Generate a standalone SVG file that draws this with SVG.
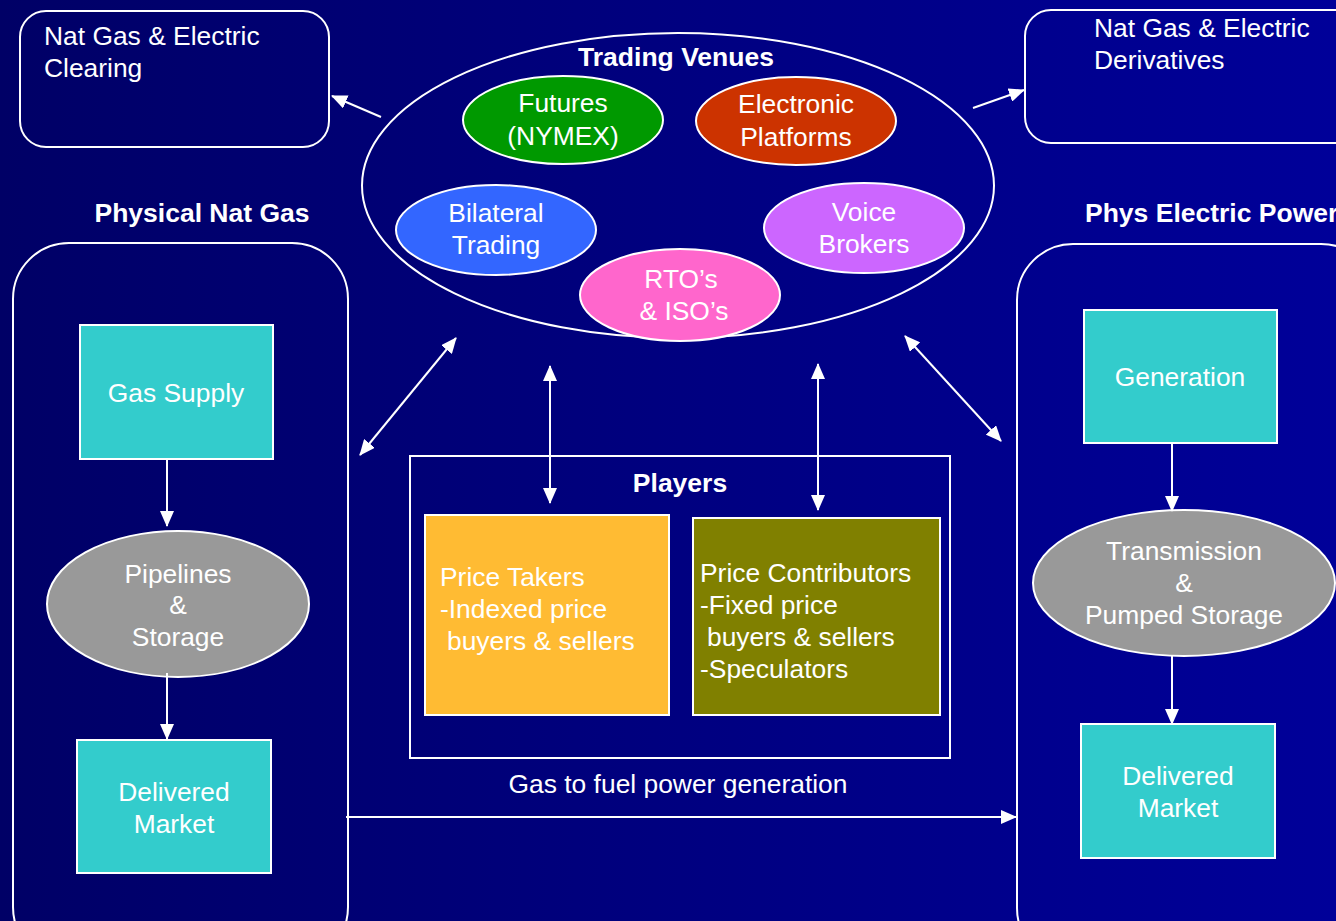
<svg xmlns="http://www.w3.org/2000/svg" width="1336" height="921" viewBox="0 0 1336 921">
<defs>
<linearGradient id="bg" x1="0" y1="0" x2="1" y2="0">
<stop offset="0" stop-color="#000066"/>
<stop offset="1" stop-color="#000099"/>
</linearGradient>
<marker id="ah" viewBox="0 0 16 14" refX="15" refY="7" markerWidth="16" markerHeight="14" markerUnits="userSpaceOnUse" orient="auto-start-reverse">
<path d="M0,0 L16,7 L0,14 Z" fill="#fff"/>
</marker>
</defs>
<style>
text{font-family:"Liberation Sans",Arial,sans-serif;font-size:26.4px;fill:#fff}
.b{font-weight:bold;font-size:26.5px}
.c{text-anchor:middle}
.ol{fill:none;stroke:#fff;stroke-width:2}
.box{fill:#33CCCC;stroke:#fff;stroke-width:2}
.gray{fill:#999999;stroke:#fff;stroke-width:2}
.ve{stroke:#fff;stroke-width:2}
.cn line{stroke:#fff;stroke-width:2}
</style>
<rect width="1336" height="921" fill="url(#bg)"/>

<g id="clearing">
<rect class="ol" x="20" y="11" width="309" height="136" rx="26"/>
<text x="44" y="45">Nat Gas &amp; Electric</text>
<text x="44" y="77">Clearing</text>
</g>

<g id="derivatives">
<rect class="ol" x="1025" y="10" width="340" height="133" rx="26"/>
<text x="1094" y="37">Nat Gas &amp; Electric</text>
<text x="1094" y="69">Derivatives</text>
</g>

<g id="trading-venues">
<ellipse class="ol" cx="678" cy="185.5" rx="316" ry="152.5"/>
<text class="b c" x="676" y="66">Trading Venues</text>
</g>
<g id="futures">
<ellipse class="ve" fill="#009900" cx="563" cy="120" rx="100" ry="44"/>
<text class="c" x="563" y="112">Futures</text>
<text class="c" x="563" y="145">(NYMEX)</text>
</g>
<g id="electronic">
<ellipse class="ve" fill="#CC3300" cx="796" cy="121" rx="100" ry="44"/>
<text class="c" x="796" y="113">Electronic</text>
<text class="c" x="796" y="146">Platforms</text>
</g>
<g id="bilateral">
<ellipse class="ve" fill="#3366FF" cx="496" cy="230" rx="100" ry="45"/>
<text class="c" x="496" y="222">Bilateral</text>
<text class="c" x="496" y="254">Trading</text>
</g>
<g id="voice">
<ellipse class="ve" fill="#CC66FF" cx="864" cy="228" rx="100" ry="45"/>
<text class="c" x="864" y="221">Voice</text>
<text class="c" x="864" y="253">Brokers</text>
</g>
<g id="rto">
<ellipse class="ve" fill="#FF66CC" cx="680" cy="295" rx="100" ry="46"/>
<text class="c" x="681" y="288">RTO’s</text>
<text class="c" x="684" y="320">&amp; ISO’s</text>
</g>

<g id="phys-gas">
<text class="b c" x="202" y="222">Physical Nat Gas</text>
<rect class="ol" x="13" y="243" width="335" height="720" rx="56"/>
</g>
<g id="gas-supply">
<rect class="box" x="80" y="325" width="193" height="134"/>
<text class="c" x="176" y="402">Gas Supply</text>
</g>
<g id="pipelines">
<ellipse class="gray" cx="178" cy="604" rx="131" ry="73"/>
<text class="c" x="178" y="583">Pipelines</text>
<text class="c" x="178" y="614">&amp;</text>
<text class="c" x="178" y="646">Storage</text>
</g>
<g id="gas-delivered">
<rect class="box" x="77" y="740" width="194" height="133"/>
<text class="c" x="174" y="801">Delivered</text>
<text class="c" x="174" y="833">Market</text>
</g>

<g id="players">
<rect class="ol" x="410" y="456" width="540" height="302"/>
<text class="b c" x="680" y="492">Players</text>
</g>
<g id="price-takers">
<rect fill="#FFBB33" stroke="#fff" stroke-width="2" x="425" y="515" width="244" height="200"/>
<text x="440" y="586">Price Takers</text>
<text x="440" y="618">-Indexed price</text>
<text x="447" y="650">buyers &amp; sellers</text>
</g>
<g id="price-contributors">
<rect fill="#808000" stroke="#fff" stroke-width="2" x="693" y="518" width="247" height="197"/>
<text x="700" y="582">Price Contributors</text>
<text x="700" y="614">-Fixed price</text>
<text x="707" y="646">buyers &amp; sellers</text>
<text x="700" y="678">-Speculators</text>
</g>

<g id="phys-power">
<text class="b" x="1085" y="222">Phys Electric Power</text>
<rect class="ol" x="1017" y="244" width="360" height="720" rx="56"/>
</g>
<g id="generation">
<rect class="box" x="1084" y="310" width="193" height="133"/>
<text class="c" x="1180" y="386">Generation</text>
</g>
<g id="transmission">
<ellipse class="gray" cx="1184" cy="583" rx="151" ry="73"/>
<text class="c" x="1184" y="560">Transmission</text>
<text class="c" x="1184" y="592">&amp;</text>
<text class="c" x="1184" y="624">Pumped Storage</text>
</g>
<g id="power-delivered">
<rect class="box" x="1081" y="724" width="194" height="134"/>
<text class="c" x="1178" y="785">Delivered</text>
<text class="c" x="1178" y="817">Market</text>
</g>

<g id="connectors" class="cn">
<line x1="381" y1="117" x2="332" y2="96" marker-end="url(#ah)"/>
<line x1="973" y1="108" x2="1024" y2="90" marker-end="url(#ah)"/>
<line x1="360" y1="455" x2="456" y2="338" marker-start="url(#ah)" marker-end="url(#ah)"/>
<line x1="550" y1="366" x2="550" y2="503" marker-start="url(#ah)" marker-end="url(#ah)"/>
<line x1="818" y1="364" x2="818" y2="510" marker-start="url(#ah)" marker-end="url(#ah)"/>
<line x1="905" y1="336" x2="1001" y2="441" marker-start="url(#ah)" marker-end="url(#ah)"/>
<line x1="167" y1="459" x2="167" y2="526" marker-end="url(#ah)"/>
<line x1="167" y1="673" x2="167" y2="739" marker-end="url(#ah)"/>
<line x1="1172" y1="443" x2="1172" y2="511" marker-end="url(#ah)"/>
<line x1="1172" y1="656" x2="1172" y2="724" marker-end="url(#ah)"/>
<line x1="346" y1="817" x2="1016" y2="817" marker-end="url(#ah)"/>
<text class="c" x="678" y="793">Gas to fuel power generation</text>
</g>
</svg>
